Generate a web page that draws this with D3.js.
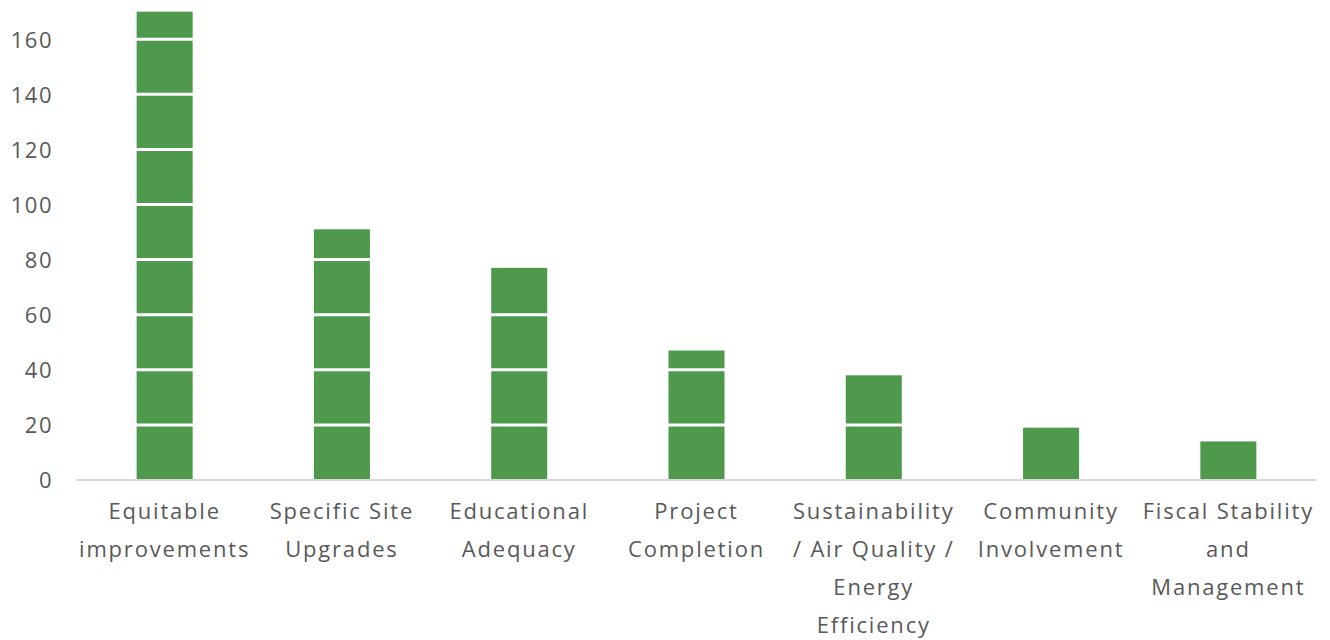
<!DOCTYPE html>
<html>
<head>
<meta charset="utf-8">
<script src="https://cdn.jsdelivr.net/npm/d3@7"></script>
<style>
  html, body { margin: 0; padding: 0; background: #ffffff; }
  svg { display: block; }
</style>
</head>
<body>
<svg id="chart" width="1330" height="640"></svg>
<script>
const categories = [
  "Equitable\nimprovements",
  "Specific Site\nUpgrades",
  "Educational\nAdequacy",
  "Project\nCompletion",
  "Sustainability\n/ Air Quality /\nEnergy\nEfficiency",
  "Community\nInvolvement",
  "Fiscal Stability\nand\nManagement"
];
const values = [170, 91, 77, 47, 38, 19, 14];
const yTicks = [0, 20, 40, 60, 80, 100, 120, 140, 160];

const W = 1330, H = 640;
const left = 76, right = 1317, baseY = 480, topY = 480 - 170 * 2.755;
const font = "'Open Sans', 'Noto Sans', sans-serif";
const textColor = "#595959";
const barColor = "#4f994d";

const svg = d3.select("#chart");

const x = d3.scaleBand().domain(categories).range([left, right]).paddingInner(0.684).paddingOuter(0.342);
const y = d3.scaleLinear().domain([0, 170]).range([baseY, topY]);

// bars
svg.append("g").selectAll("rect").data(values).join("rect")
  .attr("x", (d, i) => x(categories[i]))
  .attr("width", x.bandwidth())
  .attr("y", d => y(d))
  .attr("height", d => y(0) - y(d))
  .attr("fill", barColor);

// white gridlines over bars
svg.append("g").selectAll("line").data(yTicks.filter(t => t > 0)).join("line")
  .attr("x1", left).attr("x2", right)
  .attr("y1", d => y(d)).attr("y2", d => y(d))
  .attr("stroke", "#ffffff").attr("stroke-width", 3);

// baseline
svg.append("line")
  .attr("x1", left).attr("x2", right)
  .attr("y1", y(0)).attr("y2", y(0))
  .attr("stroke", "#d9d9d9").attr("stroke-width", 2);

// y axis labels
const yAxis = d3.axisLeft(y).tickValues(yTicks).tickSize(0).tickPadding(0);
const yg = svg.append("g").attr("transform", `translate(53,0)`).call(yAxis);
yg.select(".domain").remove();
yg.selectAll("text")
  .attr("font-family", font).attr("font-size", 22).attr("fill", textColor)
  .attr("letter-spacing", 1.5)
  .attr("dy", "0.36em");

// x axis labels
const xg = svg.append("g");
categories.forEach(c => {
  const lines = c.split("\n");
  const t = xg.append("text")
    .attr("x", x(c) + x.bandwidth() / 2)
    .attr("text-anchor", "middle")
    .attr("font-family", font).attr("font-size", 22).attr("fill", textColor)
    .attr("letter-spacing", 1.8);
  lines.forEach((ln, k) => {
    t.append("tspan").attr("x", x(c) + x.bandwidth() / 2).attr("y", 519 + k * 38).text(ln);
  });
});
</script>
</body>
</html>
